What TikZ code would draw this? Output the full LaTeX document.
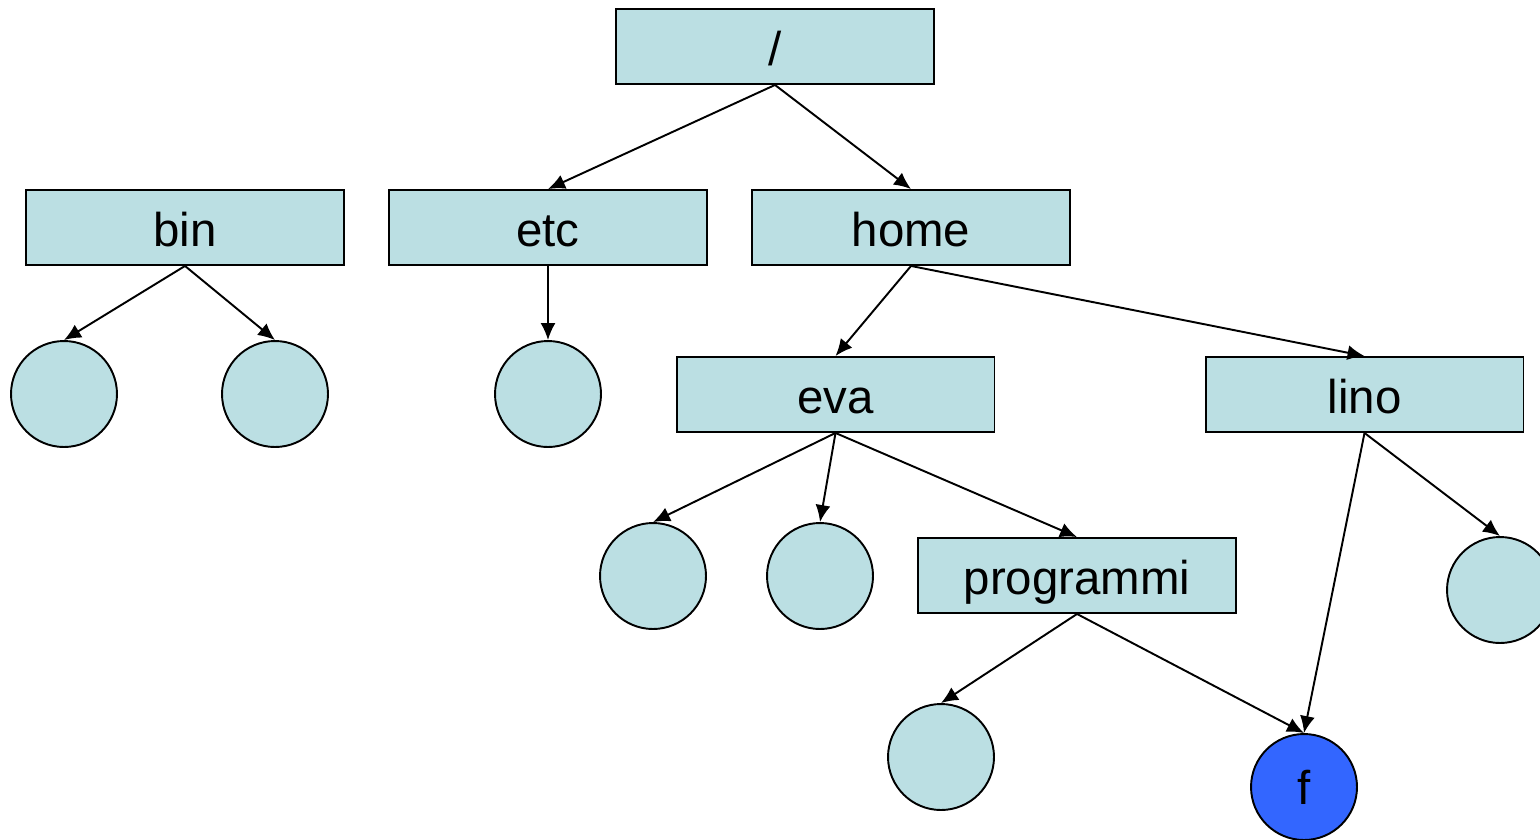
\documentclass[tikz,border=0pt]{standalone}
\usepackage{fontspec}
\setmainfont{Liberation Sans}
\usetikzlibrary{arrows.meta,positioning}
\definecolor{dircol}{HTML}{BBDFE3}
\definecolor{filecol}{HTML}{3366FF}
\tikzset{
  basic/.style  = {draw, line width=1.1pt, fill=dircol, font=\fontsize{27}{32}\selectfont},
  dir/.style    = {basic, rectangle, minimum width=6.36cm, minimum height=1.5cm,
                   inner sep=0pt, text height=0.74cm, text depth=0pt},
  leaf/.style   = {basic, circle, minimum size=2.12cm, inner sep=0pt},
  target/.style = {leaf, fill=filecol},
  link/.style   = {line width=1.1pt, -{Latex[length=0.34cm,width=0.3cm]}}
}
\begin{document}
\begin{tikzpicture}[x=0.02cm, y=-0.02cm]
\useasboundingbox (0,0) rectangle (1540,839);

% the directories
\node[dir] (root) at (775,46.5)  {/};
\node[dir] (bin)  at (185,227.5) {bin};
\node[dir] (etc)  at (548,227.5) {etc};
\node[dir] (home) at (911,227.5) {home};
\node[dir] (eva)  at (835.5,394.5) {eva};
\node[dir] (lino) at (1364.5,394.5) {lino};
\node[dir] (prog) at (1077,575.5) {programmi};

% the files, as circles
\node[leaf] (bin1) at (64,394)  {};
\node[leaf] (bin2) at (275,394) {};
\node[leaf] (etc1) at (548,394) {};
\node[leaf] (eva1) at (653,576) {};
\node[leaf] (eva2) at (820,576) {};
\node[leaf] (lino1) at (1500,590) {};
\node[leaf] (prog1) at (941,757) {};
\node[target] (f) at (1304,787) {f};

% arrows from each directory to its entries
\foreach \value in {etc,home}
  \draw[link] (root.south) -- (\value.north);

\foreach \value in {bin1,bin2}
  \draw[link] (bin.south) -- (\value.north);

\draw[link] (etc.south) -- (etc1.north);

\foreach \value in {eva,lino}
  \draw[link] (home.south) -- (\value.north);

\foreach \value in {eva1,eva2,prog}
  \draw[link] (eva.south) -- (\value.north);

\foreach \value in {f,lino1}
  \draw[link] (lino.south) -- (\value.north);

\foreach \value in {prog1,f}
  \draw[link] (prog.south) -- (\value.north);
\end{tikzpicture}
\end{document}
